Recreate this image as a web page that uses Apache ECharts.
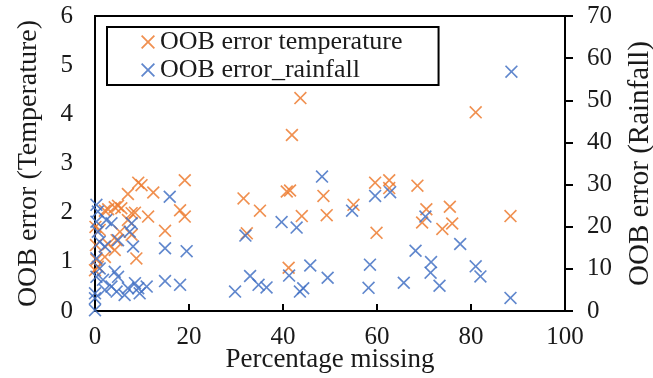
<!DOCTYPE html>
<html>
<head>
<meta charset="utf-8">
<script src="https://cdn.jsdelivr.net/npm/echarts@6/dist/echarts.min.js"></script>
<style>
  html, body { margin: 0; padding: 0; background: #fff; }
  #myChart { width: 653px; height: 378px; }
</style>
</head>
<body>
<div id="myChart"></div>
<script>
let myChart = echarts.init(document.getElementById('myChart'));

// percentage missing (x) and OOB error for temperature (left axis)
const tempX = [43.7, 41.9, 71.5, 81.0, 88.4, 59.6, 62.6, 62.6, 68.6, 55.0, 49.3, 48.6, 59.9, 70.5, 69.6,
  75.5, 76.0, 73.9, 44.0, 41.5, 40.8, 41.2, 35.1, 31.6, 32.3, 19.1, 18.1, 19.1, 9.2, 9.9,
  12.4, 7.0, 4.2, 4.9, 5.6, 2.1, 2.8, 8.5, 7.0, 11.3, 14.9, 1.0, 7.8, 4.6, 4.2,
  2.8, 2.1, 8.8, 0.3, 0.6, 0.0, 5.3, 7.8, 0.1, 0.2];
const tempY = [4.33, 3.58, 4.87, 4.04, 1.93, 2.61, 2.66, 2.50, 2.55, 2.16, 1.95, 2.34, 1.59, 2.07, 1.80,
  2.12, 1.78, 1.67, 1.93, 2.45, 2.43, 0.88, 2.04, 2.29, 1.58, 2.66, 2.05, 1.92, 2.61, 2.56,
  2.41, 2.38, 2.11, 2.14, 2.09, 2.04, 2.07, 2.00, 1.85, 1.92, 1.63, 1.65, 1.55, 1.44, 1.24,
  1.36, 1.10, 1.07, 1.04, 0.90, 0.83, 1.61, 1.99, 1.71, 1.34];

// percentage missing (x) and OOB error for rainfall (right axis)
const rainX = [88.6, 88.4, 77.7, 68.2, 71.5, 71.4, 73.3, 81.0, 82.0, 70.3, 59.6, 62.8, 54.7, 48.3, 42.9,
  39.7, 32.0, 58.5, 58.2, 65.7, 49.5, 45.8, 43.6, 44.3, 41.3, 33.0, 34.8, 36.5, 29.8, 19.5,
  14.9, 15.9, 18.1, 14.9, 0.3, 0.6, 0.3, 0.6, 2.4, 3.5, 7.8, 7.4, 4.9, 8.1, 1.0,
  2.1, 0.3, 1.0, 0.3, 1.7, 4.2, 4.9, 3.5, 4.6, 8.5, 9.2, 9.5, 11.0, 0.0, 0.0,
  0.0, 2.1, 7.0, 6.3];
const rainY = [56.8, 3.1, 15.9, 14.3, 11.6, 9.1, 6.0, 10.6, 8.2, 22.4, 27.3, 28.2, 23.8, 31.9, 19.8,
  21.1, 17.9, 11.0, 5.5, 6.7, 7.9, 10.8, 4.6, 5.4, 8.4, 8.3, 6.2, 5.6, 4.6, 14.2,
  14.9, 27.1, 6.2, 7.1, 25.2, 23.6, 21.2, 18.8, 21.6, 20.8, 20.8, 18.8, 16.8, 15.3, 16.4,
  15.3, 12.5, 10.1, 8.1, 7.4, 9.3, 8.1, 5.8, 4.6, 6.6, 5.4, 4.2, 5.8, 4.2, 3.0,
  0.2, 5.0, 5.4, 3.8];

const crossIcon = 'path://M0,9L9,0L50,41L91,0L100,9L59,50L100,91L91,100L50,59L9,100L0,91L41,50Z';
const font = '"Liberation Serif", "Times New Roman", serif';
const textColor = '#1a1a1a';

function pairs(xs, ys) {
  return xs.map(function (x, i) {
    return [x, ys[i]];
  });
}

let myChartOption = {
  animation: false,
  textStyle: { fontFamily: font },
  grid: {
    left: 95,
    right: 88,
    top: 16,
    bottom: 67,
    outerBoundsMode: 'none',
    show: true,
    borderColor: '#000',
    borderWidth: 2,
  },
  legend: {
    orient: 'vertical',
    left: 107,
    top: 27,
    padding: [2, 36, 2, 34],
    itemGap: 2,
    itemWidth: 14,
    itemHeight: 14,
    borderColor: '#000',
    borderWidth: 2,
    backgroundColor: '#fff',
    textStyle: {
      fontFamily: font,
      fontSize: 26,
      color: textColor,
    },
    data: [
      { name: 'OOB error temperature', icon: crossIcon },
      { name: 'OOB error_rainfall', icon: crossIcon },
    ],
  },
  xAxis: {
    type: 'value',
    min: 0,
    max: 100,
    interval: 20,
    name: 'Percentage missing',
    nameLocation: 'middle',
    nameGap: 35,
    nameMoveOverlap: false,
    nameTextStyle: { fontFamily: font, fontSize: 27, color: textColor },
    axisLine: { lineStyle: { color: '#000', width: 2 } },
    axisTick: { show: true, inside: true, length: 7, lineStyle: { color: '#000', width: 2 } },
    axisLabel: { fontFamily: font, fontSize: 25, color: textColor, margin: 14 },
    splitLine: { show: false },
  },
  yAxis: [
    {
      type: 'value',
      min: 0,
      max: 6,
      interval: 1,
      name: 'OOB error (Temperature)',
      nameLocation: 'middle',
      nameGap: 52,
      nameMoveOverlap: false,
      nameTextStyle: { fontFamily: font, fontSize: 28, color: textColor },
      axisLine: { show: true, lineStyle: { color: '#000', width: 2 } },
      axisTick: { show: false },
      axisLabel: { fontFamily: font, fontSize: 25, color: textColor, margin: 22 },
      splitLine: { show: false },
    },
    {
      type: 'value',
      min: 0,
      max: 70,
      interval: 10,
      position: 'right',
      name: 'OOB error (Rainfall)',
      nameLocation: 'middle',
      nameGap: 61,
      nameMoveOverlap: false,
      nameTextStyle: { fontFamily: font, fontSize: 29, color: textColor },
      axisLine: { show: true, lineStyle: { color: '#000', width: 2 } },
      axisTick: { show: true, length: 8, lineStyle: { color: '#000', width: 2 } },
      axisLabel: { fontFamily: font, fontSize: 25, color: textColor, margin: 22 },
      splitLine: { show: false },
    },
  ],
  series: [
    {
      name: 'OOB error temperature',
      type: 'scatter',
      yAxisIndex: 0,
      symbol: crossIcon,
      symbolSize: 13,
      clip: false,
      itemStyle: { color: '#ED7D31', opacity: 0.85 },
      data: pairs(tempX, tempY),
    },
    {
      name: 'OOB error_rainfall',
      type: 'scatter',
      yAxisIndex: 1,
      symbol: crossIcon,
      symbolSize: 13,
      clip: false,
      itemStyle: { color: '#4472C4', opacity: 0.85 },
      data: pairs(rainX, rainY),
    },
  ],
};

myChart.setOption(myChartOption);
</script>
</body>
</html>
